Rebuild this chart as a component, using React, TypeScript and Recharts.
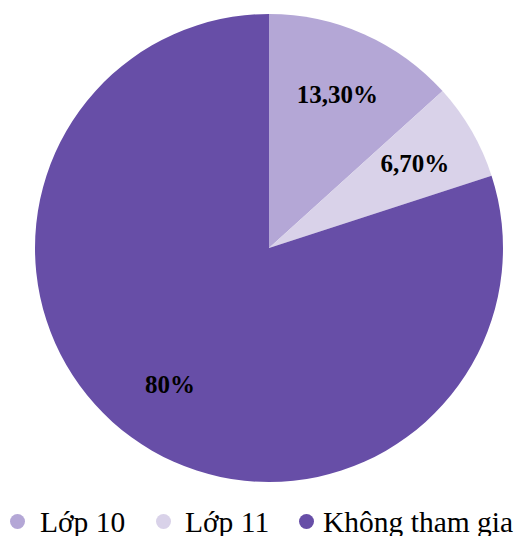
import React from "react"
import { PieChart, Pie, Cell, Legend } from "recharts"

const names = ["Lớp 10", "Lớp 11", "Không tham gia"]
const values = [13.3, 6.7, 80]
const colors = ["#b4a7d6", "#d9d2e9", "#674ea7"]

const data = names.map((name, i) => ({ name, value: values[i] }))

// legend layout (x of dot left edge, x of text start)
const legendDotX = [10, 156, 299]
const legendTextX = [40, 185, 323]

const RAD = Math.PI / 180
const FONT = "Liberation Serif, DejaVu Serif"

function fmt(v: number) {
  return Number.isInteger(v) ? `${v}%` : `${v.toFixed(2).replace(".", ",")}%`
}

function renderLabel(props: any) {
  const { cx, cy, midAngle, outerRadius, value } = props
  const r = outerRadius * 0.72
  const x = cx + r * Math.cos(-midAngle * RAD)
  const y = cy + r * Math.sin(-midAngle * RAD)
  return (
    <text
      x={x}
      y={y}
      textAnchor="middle"
      dominantBaseline="central"
      fill="#000"
      style={{ fontFamily: FONT, fontWeight: "bold", fontSize: 25 }}
    >
      {fmt(value)}
    </text>
  )
}

function renderLegend() {
  return (
    <div style={{ position: "relative", width: 531, height: 28, fontFamily: FONT, fontSize: 29.5, color: "#000", lineHeight: "28px" }}>
      {names.map((n, i) => (
        <React.Fragment key={n}>
          <span
            style={{
              position: "absolute",
              left: legendDotX[i],
              top: 6,
              width: 15,
              height: 15,
              borderRadius: "50%",
              background: colors[i],
            }}
          />
          <span style={{ position: "absolute", left: legendTextX[i], top: 0, whiteSpace: "nowrap" }}>{n}</span>
        </React.Fragment>
      ))}
    </div>
  )
}

export default function App() {
  return (
    <div style={{ position: "absolute", left: 0, top: 0, width: 531, height: 536, background: "#fff", overflow: "hidden" }}>
      <PieChart width={531} height={536} margin={{ top: 0, right: 0, bottom: 0, left: 0 }}>
        <Pie
          data={data}
          dataKey="value"
          nameKey="name"
          cx={269}
          cy={248}
          outerRadius={234}
          startAngle={90}
          endAngle={-270}
          stroke="none"
          label={renderLabel}
          labelLine={false}
          isAnimationActive={false}
        >
          {data.map((entry, i) => (
            <Cell key={`cell-${i}`} fill={colors[i]} />
          ))}
        </Pie>
        <Legend content={renderLegend} wrapperStyle={{ position: "absolute", left: 0, top: 508, width: 531 }} />
      </PieChart>
    </div>
  )
}
